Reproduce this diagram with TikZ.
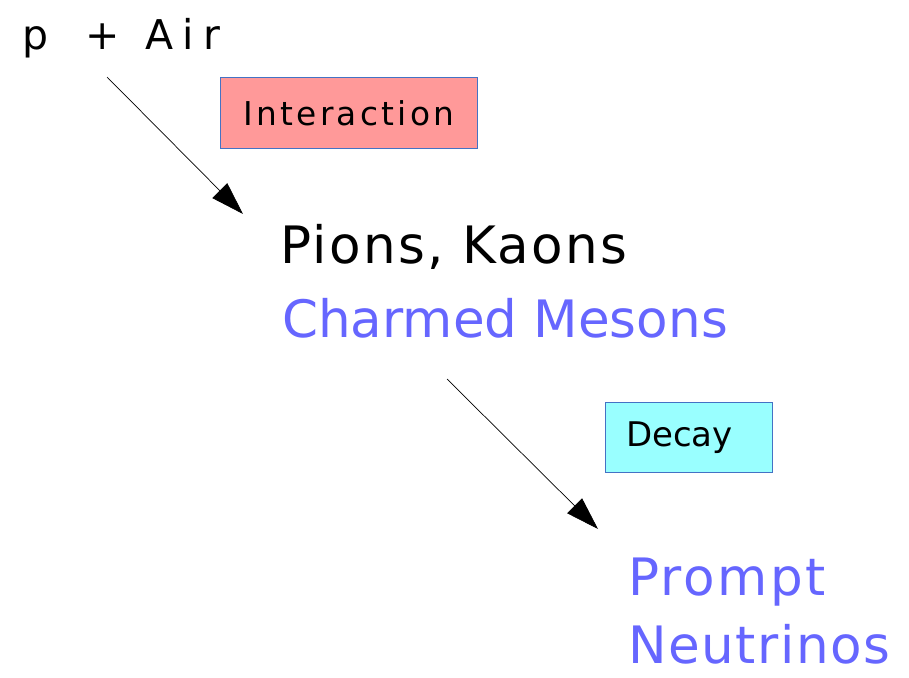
\documentclass[tikz,border=0pt]{standalone}
\usepackage{fontspec}
\setmainfont{DejaVu Sans}
\usetikzlibrary{arrows.meta}
\definecolor{mesonblue}{RGB}{102,102,255}
\definecolor{boxedge}{RGB}{68,114,196}
\definecolor{intfill}{RGB}{255,153,153}
\definecolor{decfill}{RGB}{153,255,255}
\newcommand{\track}[1]{\addfontfeatures{LetterSpace=#1}}

\begin{document}
\begin{tikzpicture}[x=0.03cm,y=-0.03cm,
  flow/.style={-{Triangle[length=0.99cm,width=0.63cm]},line width=0.6pt},
  big/.style={inner sep=0pt,anchor=base west,font=\fontsize{44}{50}\selectfont},
  procbox/.style={draw=boxedge,line width=0.7pt,anchor=north west,inner sep=0pt,
    font=\fontsize{28}{32}\selectfont}]
\useasboundingbox (0,0) rectangle (909,677);
% particles
\node[big,font=\fontsize{35}{40}\selectfont] (pair) at (22,50)
  {p\hspace{32pt}+\hspace{22pt}{\track{22}Air}};
\node[big] (pk) at (280,263) {\track{4.5}Pions, Kaons};
\node[big,text=mesonblue] (charm) at (282,337) {Charmed Mesons};
\node[big,text=mesonblue] (prompt) at (628,595) {\track{5}Prompt};
\node[big,text=mesonblue] (nu) at (628,663) {\track{3}Neutrinos};
% process boxes
\node[procbox,fill=intfill,minimum width=7.71cm,minimum height=2.13cm] (inter) at (220,77)
  {\track{10}Interaction};
\node[procbox,fill=decfill,minimum width=5.01cm,minimum height=2.1cm,
  font=\fontsize{29}{34}\selectfont] (decay) at (605,402) {Decay\hspace*{16pt}};
% arrows
\coordinate (a1s) at (107,77);
\coordinate (a1e) at (243,214);
\coordinate (a2s) at (447,379);
\coordinate (a2e) at (598,529);
\draw[flow] (a1s) -- (a1e);
\draw[flow] (a2s) -- (a2e);
\end{tikzpicture}
\end{document}
